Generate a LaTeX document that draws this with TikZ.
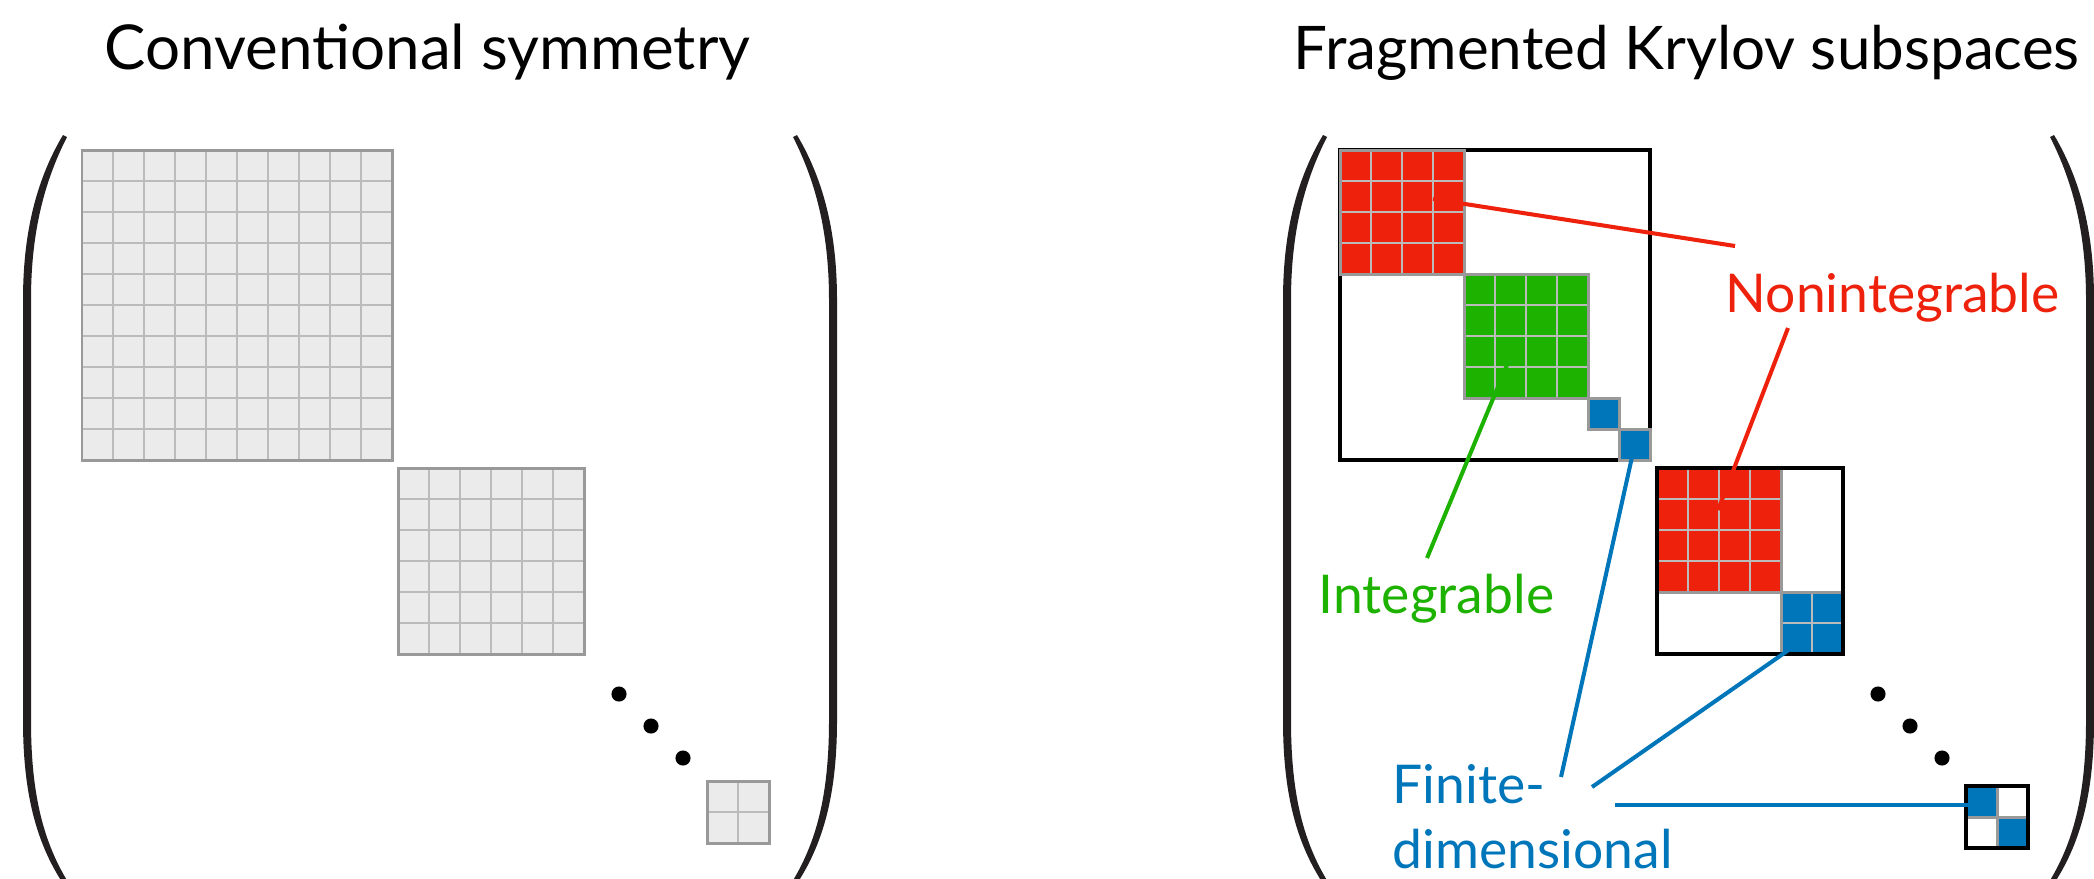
\documentclass[tikz,border=0pt]{standalone}
\usepackage{fontspec}
\setmainfont{Lato}
\definecolor{kred}{RGB}{238,34,12}
\definecolor{kgreen}{RGB}{29,177,0}
\definecolor{kblue}{RGB}{0,118,186}
\definecolor{cellfill}{RGB}{235,235,235}
\definecolor{innergray}{RGB}{187,187,187}
\definecolor{outergray}{RGB}{153,153,153}
\definecolor{parencol}{RGB}{35,31,32}

\tikzset{
  innerline/.style={draw=innergray, line width=0.6pt},
  outerline/.style={draw=outergray, line width=0.85pt},
  sectorbox/.style={draw=black, line width=0.9pt},
  link/.style={line width=1.15pt},
  title/.style={anchor=base west, inner sep=0pt, font=\fontsize{17.6}{21}\selectfont},
  tag/.style={anchor=base west, inner sep=0pt, font=\fontsize{15.2}{18}\selectfont},
  dot/.style={fill=black},
}

% square block of n x n cells (31 units each), top-left corner at (#1,#2)
\newcommand\cellblock[4]{%
  \fill[#4] (#1,#2) rectangle (#1+#3*31,#2+#3*31);
  \foreach \k in {1,...,#3}{%
    \ifnum\k<#3
      \draw[innerline] (#1+\k*31,#2) -- (#1+\k*31,#2+#3*31);
      \draw[innerline] (#1,#2+\k*31) -- (#1+#3*31,#2+\k*31);
    \fi}
  \draw[outerline] (#1,#2) rectangle (#1+#3*31,#2+#3*31);
}

% tapered bracket, vertical stroke centred on x = 0
\newcommand\bracketshape{%
  \fill[parencol] (36,135) .. controls (8,182) and (-4,236) .. (-4,300)
    -- (-4,720) .. controls (-4,790) and (8,840) .. (35,882)
    -- (41,882) .. controls (14,838) and (4,788) .. (4,720)
    -- (4,300) .. controls (4,238) and (15,186) .. (40,137) -- cycle;
}

\begin{document}
\begin{tikzpicture}[x=0.01cm, y=-0.01cm]
\useasboundingbox (0,0) rectangle (2094,878);

% ---------- left panel: conventional symmetry ----------
\node[title] (tl) at (104,69) {Conventional symmetry};
\begin{scope}[shift={(27,0)}] \bracketshape \end{scope}
\begin{scope}[shift={(833,0)}, xscale=-1] \bracketshape \end{scope}

\cellblock{82}{150}{10}{cellfill}
\cellblock{398}{468}{6}{cellfill}
\cellblock{707}{781}{2}{cellfill}

\fill[dot] (619,694) circle[radius=2.15pt];
\fill[dot] (651,726) circle[radius=2.15pt];
\fill[dot] (683,758) circle[radius=2.15pt];

% ---------- right panel: fragmented Krylov subspaces ----------
\node[title, font=\fontsize{17.1}{21}\selectfont] (tr) at (1293,69) {Fragmented Krylov subspaces};
\begin{scope}[shift={(1287,0)}] \bracketshape \end{scope}
\begin{scope}[shift={(2090,0)}, xscale=-1] \bracketshape \end{scope}

% first sector
\draw[sectorbox, fill=white] (1340,150) rectangle (1650,460);
\cellblock{1340}{150}{4}{kred}
\cellblock{1464}{274}{4}{kgreen}
\cellblock{1588}{398}{1}{kblue}
\cellblock{1619}{429}{1}{kblue}

% second sector
\cellblock{1657}{468}{4}{kred}
\cellblock{1781}{592}{2}{kblue}
\draw[sectorbox] (1657,468) rectangle (1843,654);

% smallest sector
\fill[white] (1966,786) rectangle (2028,848);
\cellblock{1966}{786}{1}{kblue}
\cellblock{1997}{817}{1}{kblue}
\draw[sectorbox] (1966,786) rectangle (2028,848);

\fill[dot] (1878,694) circle[radius=2.15pt];
\fill[dot] (1910,726) circle[radius=2.15pt];
\fill[dot] (1942,758) circle[radius=2.15pt];

% labels
\node[tag, text=kred] (nonint) at (1725,312) {Nonintegrable};
\node[tag, text=kgreen] (integ) at (1318,613) {Integrable};
\node[tag, text=kblue] (fin1) at (1392,803) {Finite-};
\node[tag, text=kblue] (fin2) at (1392,868) {dimensional};

% connector ends
\coordinate (rA) at (1433,199);
\coordinate (rAend) at (1735,246);
\coordinate (rB) at (1718,510);
\coordinate (rBend) at (1788,328);
\coordinate (gA) at (1507,365);
\coordinate (gAend) at (1427,558);
\coordinate (bA) at (1632,457);
\coordinate (bAend) at (1561,777);
\coordinate (bB) at (1790,649);
\coordinate (bBend) at (1592,787);
\coordinate (bC) at (1975,805);
\coordinate (bCend) at (1615,805);

\draw[link, kred] (rA) -- (rAend);
\draw[link, kred] (rB) -- (rBend);
\draw[link, kgreen] (gA) -- (gAend);
\draw[link, kblue] (bA) -- (bAend);
\draw[link, kblue] (bB) -- (bBend);
\draw[link, kblue] (bC) -- (bCend);
\end{tikzpicture}
\end{document}
